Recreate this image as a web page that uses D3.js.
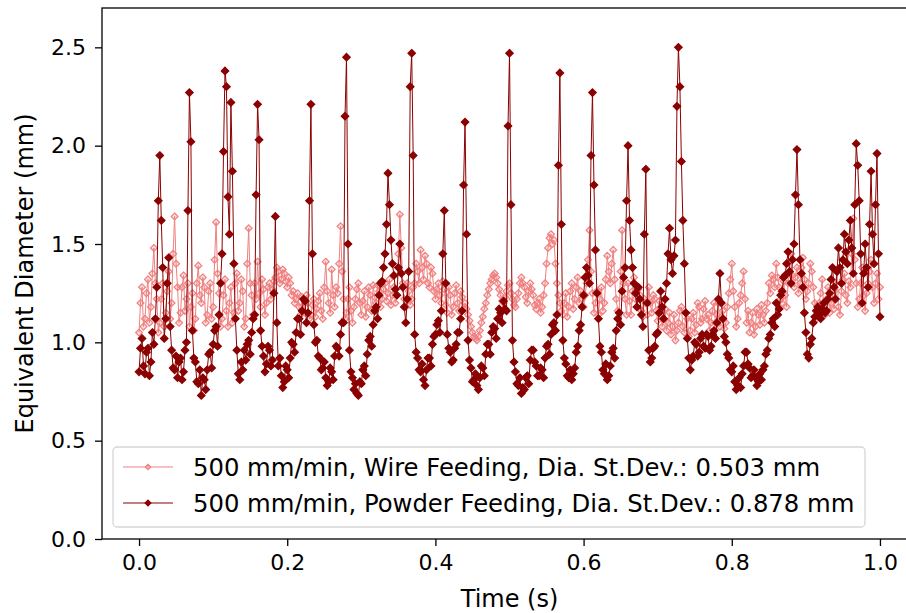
<!DOCTYPE html>
<html>
<head>
<meta charset="utf-8">
<script src="https://cdn.jsdelivr.net/npm/d3@7"></script>
<style>
  body { margin: 0; background: #fff; }
  text { font-family: "DejaVu Sans", sans-serif; fill: #000; }
</style>
</head>
<body>
<script>
// sampling interval of both records (s)
const sampleStep = 0.002;

// 500 mm/min, wire feeding - equivalent diameter (mm), one row = 0.04 s
const wireDiameter = [
  1.05, 1.20, 1.28, 1.08, 1.12, 1.25, 1.32, 1.10, 1.18, 1.35, 1.48, 1.30, 1.22, 1.05, 1.10, 1.22, 1.30, 1.08, 1.15, 1.26,
  1.36, 1.12, 1.20, 1.45, 1.64, 1.40, 1.28, 1.10, 1.15, 1.28, 1.34, 1.16, 1.22, 1.30, 1.08, 1.18, 1.25, 1.06, 1.12, 1.30,
  1.39, 1.24, 1.20, 1.33, 1.28, 1.10, 1.14, 1.26, 1.30, 1.12, 1.18, 1.42, 1.61, 1.35, 1.25, 1.08, 1.12, 1.24, 1.32, 1.16,
  1.08, 1.20, 1.28, 1.10, 1.15, 1.30, 1.35, 1.16, 1.20, 1.32, 1.26, 1.08, 1.12, 1.40, 1.58, 1.30, 1.24, 1.14, 1.30, 1.22,
  1.41, 1.25, 1.18, 1.32, 1.27, 1.14, 1.20, 1.28, 1.30, 1.22, 1.27, 1.31, 1.33, 1.38, 1.36, 1.30, 1.32, 1.37, 1.35, 1.31,
  1.28, 1.33, 1.30, 1.24, 1.26, 1.20, 1.22, 1.25, 1.18, 1.14, 1.23, 1.19, 1.15, 1.24, 1.20, 1.12, 1.14, 1.19, 1.22, 1.13,
  1.17, 1.21, 1.25, 1.16, 1.12, 1.28, 1.41, 1.26, 1.20, 1.15, 1.37, 1.24, 1.18, 1.28, 1.25, 1.40, 1.59, 1.36, 1.22, 1.12,
  1.15, 1.22, 1.28, 1.16, 1.10, 1.18, 1.22, 1.27, 1.30, 1.20, 1.14, 1.21, 1.26, 1.13, 1.18, 1.28, 1.24, 1.16, 1.29, 1.23,
  1.20, 1.29, 1.26, 1.18, 1.22, 1.27, 1.30, 1.21, 1.25, 1.32, 1.19, 1.24, 1.28, 1.20, 1.24, 1.45, 1.65, 1.48, 1.30, 1.22,
  1.18, 1.30, 1.26, 1.19, 1.22, 1.28, 1.30, 1.40, 1.36, 1.30, 1.47, 1.38, 1.32, 1.44, 1.40, 1.30, 1.28, 1.38, 1.35, 1.26,
  1.22, 1.27, 1.30, 1.24, 1.20, 1.31, 1.27, 1.19, 1.15, 1.28, 1.24, 1.14, 1.18, 1.25, 1.29, 1.20, 1.16, 1.26, 1.23, 1.17,
  1.20, 1.17, 1.14, 1.11, 1.08, 1.05, 1.03, 1.02, 1.01, 1.03, 1.06, 1.10, 1.13, 1.17, 1.20, 1.24, 1.27, 1.30, 1.32, 1.34,
  1.35, 1.33, 1.30, 1.27, 1.24, 1.21, 1.20, 1.23, 1.26, 1.29, 1.30, 1.25, 1.22, 1.19, 1.18, 1.22, 1.25, 1.30, 1.33, 1.30,
  1.28, 1.23, 1.20, 1.26, 1.30, 1.27, 1.24, 1.19, 1.17, 1.20, 1.22, 1.15, 1.18, 1.24, 1.30, 1.40, 1.48, 1.53, 1.55, 1.50,
  1.52, 1.40, 1.30, 1.24, 1.20, 1.16, 1.14, 1.20, 1.25, 1.13, 1.18, 1.26, 1.30, 1.17, 1.22, 1.28, 1.33, 1.20, 1.26, 1.22,
  1.18, 1.24, 1.30, 1.42, 1.57, 1.36, 1.25, 1.15, 1.20, 1.26, 1.14, 1.22, 1.28, 1.16, 1.20, 1.32, 1.44, 1.36, 1.30, 1.40,
  1.47, 1.32, 1.22, 1.16, 1.15, 1.36, 1.57, 1.30, 1.22, 1.14, 1.30, 1.21, 1.14, 1.26, 1.33, 1.22, 1.18, 1.27, 1.24, 1.16,
  1.13, 1.22, 1.20, 1.14, 1.28, 1.20, 1.15, 1.24, 1.22, 1.16, 1.11, 1.21, 1.18, 1.08, 1.12, 1.17, 1.06, 1.10, 1.15, 1.04,
  1.08, 1.14, 1.01, 1.06, 1.10, 1.16, 1.18, 1.08, 1.05, 1.15, 1.12, 1.03, 1.06, 1.12, 1.15, 1.05, 1.09, 1.20, 1.18, 1.10,
  1.12, 1.17, 1.21, 1.12, 1.14, 1.06, 1.10, 1.16, 1.20, 1.10, 1.14, 1.20, 1.08, 1.13, 1.16, 1.07, 1.10, 1.18, 1.25, 1.32,
  1.40, 1.26, 1.18, 1.08, 1.12, 1.20, 1.24, 1.30, 1.36, 1.22, 1.10, 1.16, 1.05, 1.10, 1.15, 1.04, 1.08, 1.17, 1.14, 1.09,
  1.19, 1.14, 1.10, 1.16, 1.20, 1.30, 1.25, 1.34, 1.32, 1.28, 1.40, 1.33, 1.28, 1.22, 1.20, 1.31, 1.24, 1.18, 1.30, 1.36,
  1.45, 1.34, 1.28, 1.33, 1.38, 1.25, 1.30, 1.38, 1.43, 1.32, 1.22, 1.26, 1.30, 1.40, 1.36, 1.28, 1.20, 1.12, 1.14, 1.20,
  1.25, 1.32, 1.18, 1.14, 1.22, 1.28, 1.15, 1.20, 1.24, 1.17, 1.30, 1.36, 1.18, 1.14, 1.26, 1.32, 1.35, 1.24, 1.20, 1.31,
  1.28, 1.45, 1.63, 1.42, 1.30, 1.18, 1.22, 1.30, 1.38, 1.24, 1.16, 1.25, 1.30, 1.36, 1.42, 1.28, 1.20, 1.30, 1.35, 1.22,
  1.28
];

// 500 mm/min, powder feeding - equivalent diameter (mm), one row = 0.04 s
const powderDiameter = [
  0.85, 0.97, 1.02, 0.88, 0.84, 0.95, 0.97, 0.83, 0.90, 1.05, 0.99, 1.12, 1.28, 1.72, 1.95, 1.62, 1.38, 1.02, 1.12, 1.30,
  1.43, 1.08, 0.96, 0.87, 0.86, 0.93, 0.82, 0.90, 0.92, 0.81, 0.85, 0.96, 1.00, 1.67, 2.27, 2.02, 1.06, 0.92, 0.90, 0.80,
  0.79, 0.86, 0.73, 0.82, 0.81, 0.76, 0.86, 0.94, 0.95, 0.87, 0.99, 1.06, 1.08, 0.98, 1.14, 1.30, 1.45, 1.97, 2.38, 2.30,
  1.74, 1.55, 2.22, 1.87, 1.40, 1.12, 0.96, 0.84, 0.81, 0.90, 0.86, 0.96, 0.91, 0.99, 1.01, 0.94, 1.05, 1.12, 1.14, 1.75,
  2.21, 2.03, 1.06, 0.98, 0.93, 0.85, 0.89, 0.98, 0.96, 0.88, 0.91, 1.25, 1.64, 1.10, 0.88, 0.92, 0.83, 0.77, 0.80, 0.88,
  0.86, 0.82, 0.92, 1.00, 0.99, 0.95, 1.05, 1.12, 1.12, 1.04, 1.16, 1.22, 1.21, 1.10, 1.15, 1.72, 2.21, 1.45, 1.09, 1.00,
  1.01, 0.93, 0.92, 0.86, 0.87, 0.90, 0.82, 0.78, 0.80, 0.87, 0.85, 0.81, 0.93, 0.98, 0.97, 0.93, 1.04, 1.10, 1.10, 2.15,
  2.45, 1.50, 0.96, 0.85, 0.82, 0.76, 0.79, 0.74, 0.73, 0.80, 0.79, 0.86, 0.88, 0.83, 0.94, 1.01, 1.03, 0.98, 1.09, 1.16,
  1.18, 1.12, 1.24, 1.30, 1.31, 1.38, 1.45, 1.60, 1.86, 1.70, 1.52, 1.40, 1.34, 1.27, 1.24, 1.38, 1.50, 1.35, 1.28, 1.18,
  1.10, 1.22, 1.36, 2.30, 2.47, 1.95, 1.04, 0.95, 0.92, 0.86, 0.85, 0.89, 0.81, 0.78, 0.86, 0.92, 0.92, 0.88, 0.99, 1.03,
  1.04, 1.09, 1.11, 1.05, 1.16, 1.45, 1.67, 1.30, 1.04, 0.97, 0.95, 0.90, 0.91, 0.97, 0.99, 1.05, 1.05, 1.12, 1.16, 1.80,
  2.12, 1.55, 1.01, 0.91, 0.87, 0.80, 0.81, 0.84, 0.78, 0.76, 0.82, 0.88, 0.87, 0.83, 0.94, 0.99, 0.99, 0.94, 1.05, 1.08,
  1.07, 1.02, 1.12, 1.17, 1.15, 1.10, 1.21, 1.17, 1.16, 2.10, 2.47, 1.70, 1.01, 0.90, 0.85, 0.79, 0.78, 0.82, 0.74, 0.77,
  0.76, 0.82, 0.83, 0.79, 0.91, 0.96, 0.96, 0.90, 0.88, 0.83, 0.83, 0.87, 0.86, 0.82, 0.92, 0.98, 0.99, 0.94, 1.04, 1.09,
  1.10, 1.06, 1.14, 1.90, 2.37, 1.60, 1.01, 0.92, 0.89, 0.83, 0.82, 0.86, 0.81, 0.84, 0.87, 0.95, 0.98, 1.06, 1.09, 1.18,
  1.24, 1.33, 1.38, 1.34, 1.30, 1.95, 2.27, 1.80, 1.47, 1.25, 1.12, 0.98, 0.95, 0.86, 0.84, 0.89, 0.81, 0.83, 0.88, 0.95,
  0.97, 0.92, 1.06, 1.12, 1.15, 1.09, 1.26, 1.33, 1.38, 1.72, 2.00, 1.62, 1.47, 1.38, 1.30, 1.25, 1.18, 1.28, 1.22, 1.14,
  1.08, 1.55, 1.88, 1.20, 0.96, 0.90, 0.92, 0.97, 0.98, 1.04, 1.05, 1.15, 1.26, 1.18, 1.12, 1.22, 1.30, 1.45, 1.58, 1.42,
  1.35, 1.44, 1.52, 2.20, 2.50, 2.30, 1.92, 1.62, 1.40, 1.15, 1.02, 0.92, 0.86, 0.91, 0.93, 1.00, 0.99, 0.93, 0.95, 1.02,
  1.04, 0.98, 0.97, 1.04, 1.03, 0.96, 0.98, 1.04, 1.06, 1.02, 1.10, 1.22, 1.35, 1.20, 1.12, 1.03, 1.00, 0.94, 0.92, 0.86,
  0.85, 0.88, 0.80, 0.76, 0.78, 0.82, 0.77, 0.84, 0.88, 0.95, 0.95, 0.89, 0.87, 0.82, 0.83, 0.86, 0.82, 0.78, 0.80, 0.84,
  0.81, 0.86, 0.88, 0.94, 0.96, 1.02, 1.04, 1.10, 1.12, 1.08, 1.20, 1.14, 1.17, 1.24, 1.26, 1.33, 1.34, 1.40, 1.46, 1.36,
  1.30, 1.42, 1.50, 1.75, 1.98, 1.70, 1.42, 1.35, 1.28, 1.15, 1.05, 0.94, 0.92, 0.99, 1.02, 1.10, 1.13, 1.16, 1.18, 1.14,
  1.12, 1.17, 1.20, 1.15, 1.16, 1.22, 1.25, 1.32, 1.38, 1.28, 1.22, 1.36, 1.48, 1.38, 1.30, 1.42, 1.55, 1.46, 1.40, 1.52,
  1.62, 1.48, 1.35, 1.70, 2.01, 1.90, 1.72, 1.45, 1.20, 1.35, 1.50, 1.38, 1.28, 1.60, 1.87, 1.55, 1.40, 1.70, 1.96, 1.45,
  1.13
];

const seriesLabels = [
  '500 mm/min, Wire Feeding, Dia. St.Dev.: 0.503 mm',
  '500 mm/min, Powder Feeding, Dia. St.Dev.: 0.878 mm'
];
const xTicks = [0, 0.2, 0.4, 0.6, 0.8, 1.0];
const yTicks = [0, 0.5, 1.0, 1.5, 2.0, 2.5];

const width = 906, height = 613;
// axes box runs past the right edge of the picture
const plot = { left: 102, right: 917, top: 8, bottom: 539 };

const series = [
  { values: wireDiameter, stroke: '#f08080', fill: 'rgba(240,128,128,0.25)', size: 30, label: seriesLabels[0] },
  { values: powderDiameter, stroke: '#8b0000', fill: '#8b0000', size: 36, label: seriesLabels[1] }
];

const svg = d3.select('body').append('svg')
  .attr('width', width)
  .attr('height', height);

const x = d3.scaleLinear().domain([-0.05, 1.05]).range([plot.left, plot.right]);
const y = d3.scaleLinear().domain([0, 2.7]).range([plot.bottom, plot.top]);

svg.append('clipPath')
  .attr('id', 'clip')
  .append('rect')
  .attr('x', plot.left)
  .attr('y', plot.top)
  .attr('width', plot.right - plot.left)
  .attr('height', plot.bottom - plot.top);

/* series */
const line = d3.line()
  .x((d, i) => x(i * sampleStep))
  .y(d => y(d));
const diamond = d3.symbol().type(d3.symbolDiamond2);

const marks = svg.append('g').attr('clip-path', 'url(#clip)');
series.forEach(s => {
  const g = marks.append('g');
  g.append('path')
    .datum(s.values)
    .attr('fill', 'none')
    .attr('stroke', s.stroke)
    .attr('stroke-width', 1)
    .attr('d', line);
  g.selectAll('path.pt')
    .data(s.values)
    .enter().append('path')
    .attr('class', 'pt')
    .attr('d', diamond.size(s.size)())
    .attr('transform', (d, i) => `translate(${x(i * sampleStep)},${y(d)})`)
    .attr('fill', s.fill)
    .attr('stroke', s.stroke)
    .attr('stroke-width', 1.2);
});

/* axes */
const xAxis = d3.axisBottom(x)
  .tickValues(xTicks)
  .tickFormat(d3.format('.1f'))
  .tickSize(7)
  .tickPadding(8);
const yAxis = d3.axisLeft(y)
  .tickValues(yTicks)
  .tickFormat(d3.format('.1f'))
  .tickSize(7)
  .tickPadding(9);

const gx = svg.append('g')
  .attr('transform', `translate(0,${plot.bottom})`)
  .call(xAxis);
const gy = svg.append('g')
  .attr('transform', `translate(${plot.left},0)`)
  .call(yAxis);
[gx, gy].forEach(g => {
  g.select('.domain').remove();
  g.selectAll('line').attr('stroke', '#000').attr('stroke-width', 1.3);
  g.selectAll('text')
    .attr('font-size', 22)
    .attr('font-family', 'DejaVu Sans')
    .attr('fill', '#000');
});

// spines
svg.append('rect')
  .attr('x', plot.left)
  .attr('y', plot.top)
  .attr('width', plot.right - plot.left)
  .attr('height', plot.bottom - plot.top)
  .attr('fill', 'none')
  .attr('stroke', '#000')
  .attr('stroke-width', 1.3);

/* axis labels */
svg.append('text')
  .attr('x', (plot.left + plot.right) / 2)
  .attr('y', 607)
  .attr('text-anchor', 'middle')
  .attr('font-size', 24)
  .text('Time (s)');

svg.append('text')
  .attr('transform', `translate(33,${(plot.top + plot.bottom) / 2}) rotate(-90)`)
  .attr('text-anchor', 'middle')
  .attr('font-size', 24)
  .text('Equivalent Diameter (mm)');

/* legend */
const legend = svg.append('g').attr('transform', 'translate(113,447)');
legend.append('rect')
  .attr('width', 752)
  .attr('height', 80)
  .attr('rx', 4)
  .attr('fill', 'rgba(255,255,255,0.8)')
  .attr('stroke', '#d6d6d6')
  .attr('stroke-width', 1.3);

const rows = legend.selectAll('g.row')
  .data(series)
  .enter().append('g')
  .attr('class', 'row')
  .attr('transform', (d, i) => `translate(0,${20 + i * 36})`);
rows.append('line')
  .attr('x1', 10).attr('x2', 60)
  .attr('stroke', d => d.stroke)
  .attr('stroke-width', 1);
rows.append('path')
  .attr('d', d => diamond.size(d.size * 0.6)())
  .attr('transform', 'translate(35,0)')
  .attr('fill', d => d.fill)
  .attr('stroke', d => d.stroke)
  .attr('stroke-width', 1.2);
rows.append('text')
  .attr('x', 80)
  .attr('dy', '0.35em')
  .attr('font-size', 24.3)
  .text(d => d.label);
</script>
</body>
</html>
